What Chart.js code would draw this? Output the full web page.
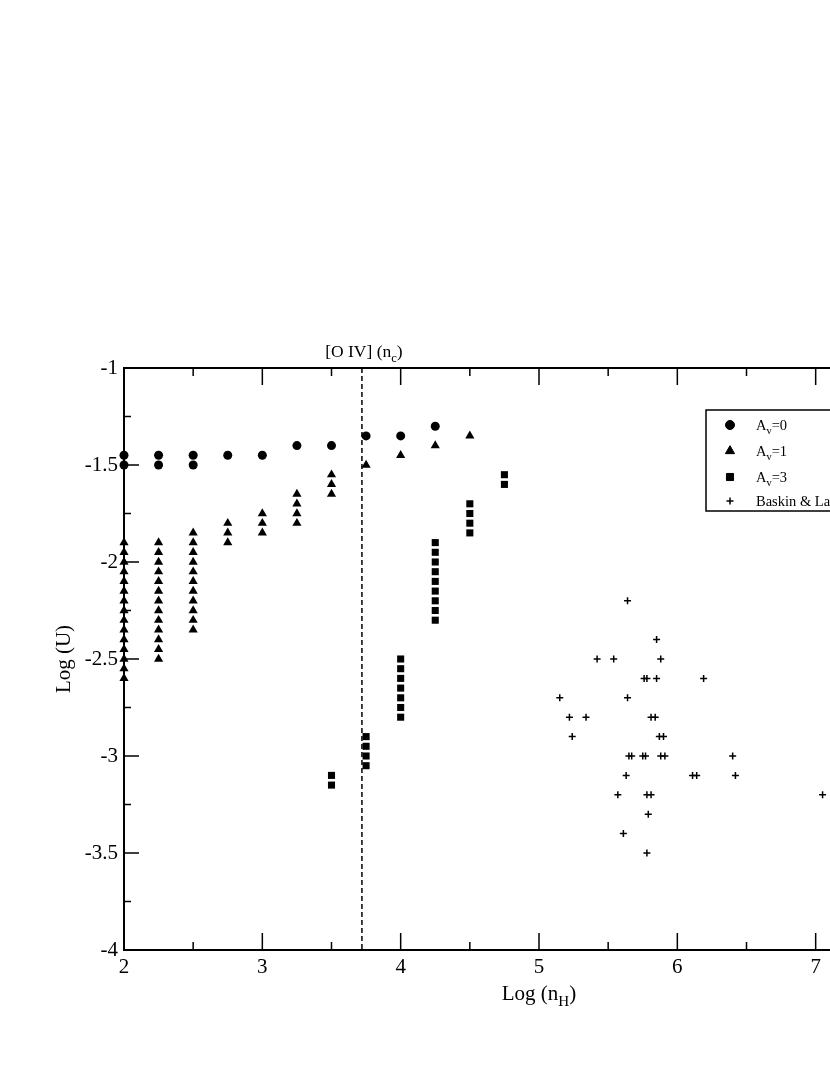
<!DOCTYPE html>
<html>
<head>
<meta charset="utf-8">
<script src="https://cdn.jsdelivr.net/npm/chart.js@4"></script>
<style>
  html, body { margin: 0; padding: 0; background: #fff; overflow: hidden; }
  #wrap { width: 1000px; height: 1075px; }
</style>
</head>
<body>
<div id="wrap"><canvas id="myChart" width="1000" height="1075"></canvas></div>
<script>
// model grids: Log(nH) vs Log(U)
var av0X = [2, 2, 2.25, 2.25, 2.5, 2.5, 2.75, 3, 3.25, 3.5, 3.75, 4, 4.25];
var av0Y = [-1.45, -1.5, -1.45, -1.5, -1.45, -1.5, -1.45, -1.45, -1.4, -1.4, -1.35, -1.35, -1.3];

var av1X = [2, 2, 2, 2, 2, 2, 2, 2, 2, 2, 2, 2, 2, 2, 2,
            2.25, 2.25, 2.25, 2.25, 2.25, 2.25, 2.25, 2.25, 2.25, 2.25, 2.25, 2.25, 2.25,
            2.5, 2.5, 2.5, 2.5, 2.5, 2.5, 2.5, 2.5, 2.5, 2.5, 2.5,
            2.75, 2.75, 2.75,
            3, 3, 3,
            3.25, 3.25, 3.25, 3.25,
            3.5, 3.5, 3.5,
            3.75, 4, 4.25, 4.5];
var av1Y = [-1.9, -1.95, -2, -2.05, -2.1, -2.15, -2.2, -2.25, -2.3, -2.35, -2.4, -2.45, -2.5, -2.55, -2.6,
            -1.9, -1.95, -2, -2.05, -2.1, -2.15, -2.2, -2.25, -2.3, -2.35, -2.4, -2.45, -2.5,
            -1.85, -1.9, -1.95, -2, -2.05, -2.1, -2.15, -2.2, -2.25, -2.3, -2.35,
            -1.8, -1.85, -1.9,
            -1.75, -1.8, -1.85,
            -1.65, -1.7, -1.75, -1.8,
            -1.55, -1.6, -1.65,
            -1.5, -1.45, -1.4, -1.35];

var av3X = [3.5, 3.5,
            3.75, 3.75, 3.75, 3.75,
            4, 4, 4, 4, 4, 4, 4,
            4.25, 4.25, 4.25, 4.25, 4.25, 4.25, 4.25, 4.25, 4.25,
            4.5, 4.5, 4.5, 4.5,
            4.75, 4.75];
var av3Y = [-3.1, -3.15,
            -2.9, -2.95, -3, -3.05,
            -2.5, -2.55, -2.6, -2.65, -2.7, -2.75, -2.8,
            -1.9, -1.95, -2, -2.05, -2.1, -2.15, -2.2, -2.25, -2.3,
            -1.7, -1.75, -1.8, -1.85,
            -1.55, -1.6];

// Baskin & Laor objects
var blX = [5.64, 5.85, 5.42, 5.54, 5.88, 5.76, 5.78, 5.85, 6.19, 5.15, 5.64, 5.22,
           5.34, 5.81, 5.84, 5.24, 5.87, 5.90, 5.65, 5.67, 5.75, 5.77, 5.88, 5.91,
           6.40, 5.63, 6.11, 6.14, 6.42, 5.57, 5.78, 5.81, 7.05, 5.79, 5.61, 5.78];
var blY = [-2.2, -2.4, -2.5, -2.5, -2.5, -2.6, -2.6, -2.6, -2.6, -2.7, -2.7, -2.8,
           -2.8, -2.8, -2.8, -2.9, -2.9, -2.9, -3, -3, -3, -3, -3, -3,
           -3, -3.1, -3.1, -3.1, -3.1, -3.2, -3.2, -3.2, -3.2, -3.3, -3.4, -3.5];

var oivCritical = 3.72;   // [O IV] critical density
var xTicks = [2, 3, 4, 5, 6, 7, 8];
var yTicks = [-4, -3.5, -3, -2.5, -2, -1.5, -1];

var serif = '"Liberation Serif", "Times New Roman", serif';

function pts(xs, ys) {
    return xs.map((x, i) => ({ x: x, y: ys[i] }));
}

// text with a subscript part, parts = [[text, isSub], ...]
function subText(ctx, parts, x, y, size, align) {
    var w = 0;
    parts.forEach(p => {
        ctx.font = (p[1] ? size * 0.72 : size) + 'px ' + serif;
        w += ctx.measureText(p[0]).width;
    });
    var cx = align === 'center' ? x - w / 2 : x;
    parts.forEach(p => {
        ctx.font = (p[1] ? size * 0.72 : size) + 'px ' + serif;
        ctx.fillText(p[0], cx, p[1] ? y + size * 0.3 : y);
        cx += ctx.measureText(p[0]).width;
    });
}

var frame = {
    id: 'frame',
    beforeDatasetsDraw(chart) {
        var ctx = chart.ctx, a = chart.chartArea;
        var xs = chart.scales.x, ys = chart.scales.y;
        ctx.save();
        // dashed [O IV] line
        var dx = xs.getPixelForValue(oivCritical);
        ctx.strokeStyle = '#000';
        ctx.lineWidth = 1.5;
        ctx.setLineDash([5, 3]);
        ctx.beginPath();
        ctx.moveTo(dx, a.top);
        ctx.lineTo(dx, a.bottom);
        ctx.stroke();
        ctx.setLineDash([]);

        // frame
        ctx.lineWidth = 2;
        ctx.strokeRect(a.left, a.top, a.right - a.left, a.bottom - a.top);

        // inward ticks
        ctx.lineWidth = 1.5;
        ctx.beginPath();
        for (var v = 2; v <= 8; v += 0.5) {
            var px = xs.getPixelForValue(v);
            var len = (v % 1 === 0) ? 17 : 8;
            ctx.moveTo(px, a.bottom); ctx.lineTo(px, a.bottom - len);
            ctx.moveTo(px, a.top); ctx.lineTo(px, a.top + len);
        }
        for (var u = -4; u <= -1; u += 0.25) {
            var py = ys.getPixelForValue(u);
            var l2 = (Math.abs(u * 2) % 1 === 0) ? 15 : 7;
            ctx.moveTo(a.left, py); ctx.lineTo(a.left + l2, py);
            ctx.moveTo(a.right, py); ctx.lineTo(a.right - l2, py);
        }
        ctx.stroke();

        // labels
        ctx.fillStyle = '#000';
        ctx.textBaseline = 'alphabetic';
        ctx.textAlign = 'left';
        subText(ctx, [['[O IV] (n', false], ['c', true], [')', false]], dx + 2, 357, 17.5, 'center');
        subText(ctx, [['Log (n', false], ['H', true], [')', false]], (a.left + a.right) / 2, 1000, 21, 'center');

        ctx.translate(70, (a.top + a.bottom) / 2);
        ctx.rotate(-Math.PI / 2);
        ctx.font = '21px ' + serif;
        ctx.textAlign = 'center';
        ctx.fillText('Log (U)', 0, 0);
        ctx.restore();
    },
    afterDraw(chart) {
        var ctx = chart.ctx;
        ctx.save();
        ctx.fillStyle = '#fff';
        ctx.fillRect(706, 410, 150, 101);
        ctx.strokeStyle = '#000';
        ctx.lineWidth = 1.5;
        ctx.strokeRect(706, 410, 150, 101);
        var rows = [
            { style: 'circle', r: 4.5, label: [['A', false], ['v', true], ['=0', false]] },
            { style: 'triangle', r: 5.3, label: [['A', false], ['v', true], ['=1', false]] },
            { style: 'rect', r: 5, label: [['A', false], ['v', true], ['=3', false]] },
            { style: 'cross', r: 3.5, label: [['Baskin & Laor', false]] }
        ];
        var rowY = [425, 451, 477, 501];
        ctx.fillStyle = '#000';
        rows.forEach((row, i) => {
            ctx.lineWidth = row.style === 'cross' ? 1.5 : 1;
            Chart.helpers.drawPoint(ctx, { pointStyle: row.style, radius: row.r, borderWidth: ctx.lineWidth }, 730, rowY[i]);
            ctx.fillStyle = '#000';
            ctx.textAlign = 'left';
            subText(ctx, row.label, 756, rowY[i] + 5, 14.5, 'left');
        });
        ctx.restore();
    }
};

var ctx = document.getElementById('myChart');
var myChart = new Chart(ctx, {
    type: 'scatter',
    data: {
        datasets: [
            { label: 'Av=0', data: pts(av0X, av0Y), pointStyle: 'circle', pointRadius: 4.5,
              backgroundColor: '#000', borderColor: '#000', borderWidth: 0, clip: false },
            { label: 'Av=1', data: pts(av1X, av1Y), pointStyle: 'triangle', pointRadius: 5.3,
              backgroundColor: '#000', borderColor: '#000', borderWidth: 0, clip: false },
            { label: 'Av=3', data: pts(av3X, av3Y), pointStyle: 'rect', pointRadius: 5,
              backgroundColor: '#000', borderColor: '#000', borderWidth: 0, clip: false },
            { label: 'Baskin & Laor', data: pts(blX, blY), pointStyle: 'cross', pointRadius: 3.5,
              backgroundColor: '#000', borderColor: '#000', borderWidth: 1.5, clip: false }
        ]
    },
    options: {
        responsive: false,
        animation: false,
        events: [],
        layout: { padding: { top: 368, right: 46, left: 0, bottom: 0 } },
        plugins: {
            legend: { display: false },
            tooltip: { enabled: false }
        },
        scales: {
            x: {
                type: 'linear', min: 2, max: 8,
                border: { display: false },
                grid: { display: false, drawTicks: false },
                afterBuildTicks: (s) => { s.ticks = xTicks.map(v => ({ value: v })); },
                ticks: { padding: 5, color: '#000', maxRotation: 0, font: { family: serif, size: 21 },
                         callback: (v) => String(v) },
                afterFit: (s) => { s.height = 125; }
            },
            y: {
                type: 'linear', min: -4, max: -1,
                border: { display: false },
                grid: { display: false, drawTicks: false },
                afterBuildTicks: (s) => { s.ticks = yTicks.map(v => ({ value: v })); },
                ticks: { padding: 6, color: '#000', font: { family: serif, size: 21 },
                         callback: (v) => String(v) },
                afterFit: (s) => { s.width = 124; }
            }
        }
    },
    plugins: [frame]
});
</script>
</body>
</html>
